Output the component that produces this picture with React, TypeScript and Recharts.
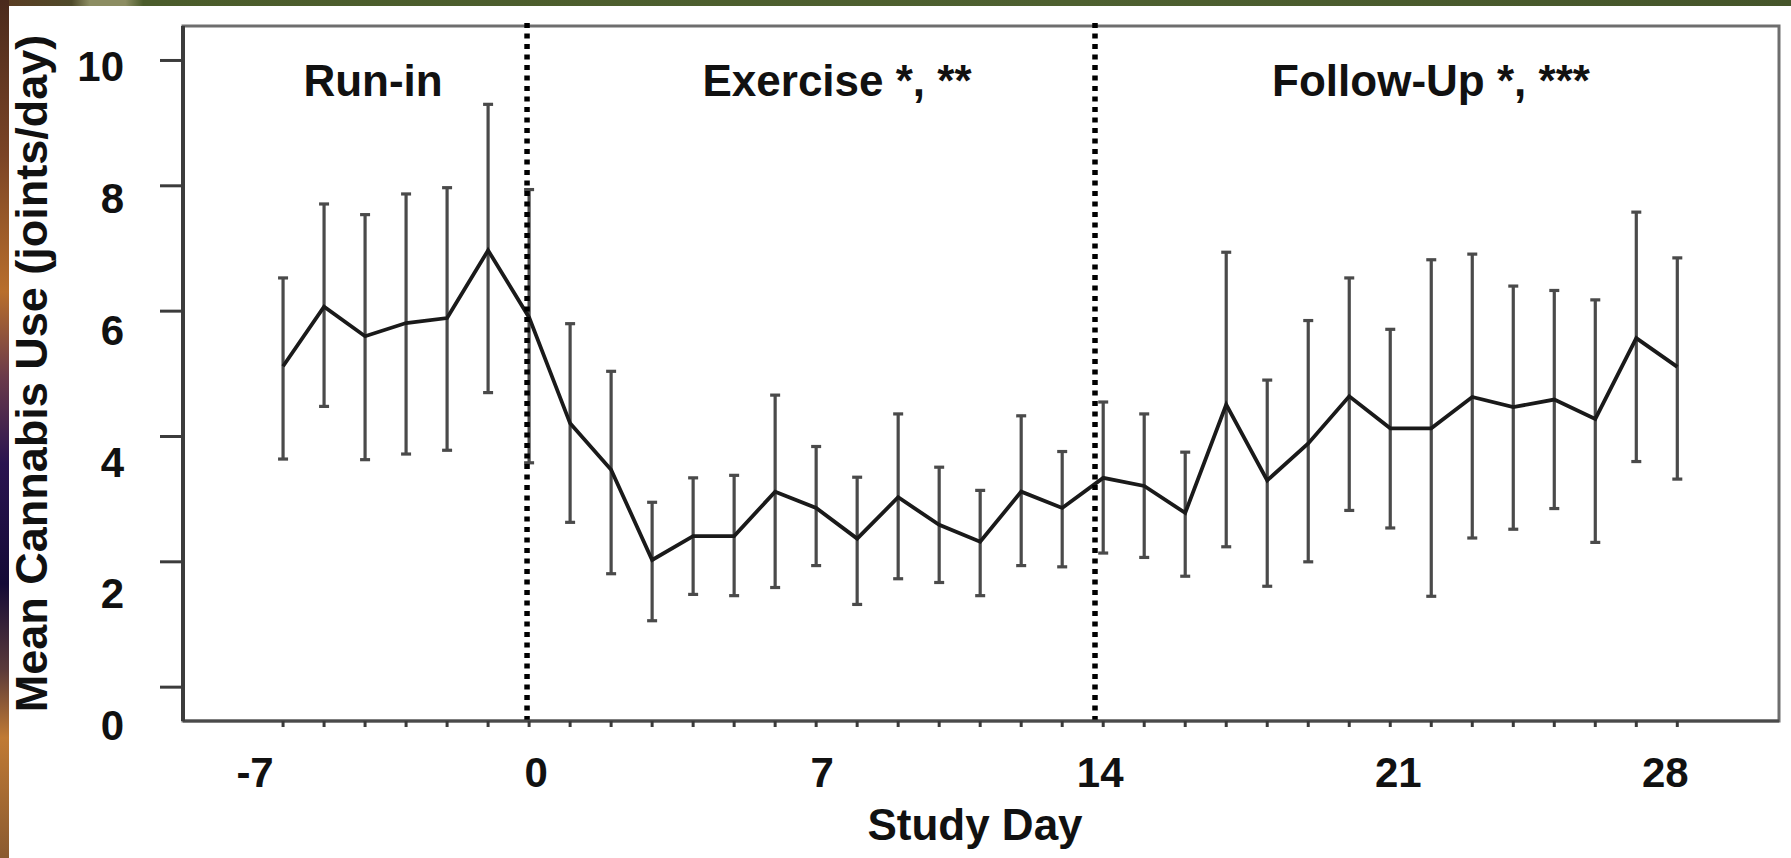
import {
  LineChart,
  Line,
  XAxis,
  YAxis,
  ErrorBar,
  ReferenceLine,
  ReferenceArea,
} from "recharts";

// study day of each point (one mean per day)
const days = [
  -6, -5, -4, -3, -2, -1, 0, 1, 2, 3, 4, 5, 6, 7, 8, 9, 10, 11, 12, 13, 14, 15,
  16, 17, 18, 19, 20, 21, 22, 23, 24, 25, 26, 27, 28,
];

// mean joints/day
const meanUse = [
  5.12, 6.07, 5.6, 5.81, 5.89, 6.97, 5.9, 4.21, 3.47, 2.03, 2.41, 2.41, 3.12,
  2.86, 2.37, 3.03, 2.59, 2.32, 3.12, 2.86, 3.34, 3.21, 2.78, 4.51, 3.3, 3.89,
  4.64, 4.13, 4.13, 4.63, 4.47, 4.59, 4.28, 5.57, 5.11,
];

// top and bottom of each error bar
const upperBar = [
  6.53, 7.71, 7.54, 7.87, 7.97, 9.3, 7.94, 5.8, 5.04, 2.95, 3.34, 3.38, 4.66,
  3.84, 3.35, 4.36, 3.51, 3.14, 4.33, 3.76, 4.55, 4.36, 3.75, 6.94, 4.9, 5.85,
  6.53, 5.71, 6.82, 6.91, 6.4, 6.33, 6.18, 7.58, 6.85,
];
const lowerBar = [
  3.64, 4.48, 3.63, 3.72, 3.78, 4.7, 3.58, 2.63, 1.81, 1.06, 1.48, 1.46, 1.59,
  1.94, 1.32, 1.73, 1.67, 1.46, 1.94, 1.92, 2.14, 2.07, 1.77, 2.24, 1.61, 2.0,
  2.82, 2.54, 1.45, 2.38, 2.52, 2.85, 2.31, 3.6, 3.32,
];

// labelled x ticks (the first one is printed as -7 in the original)
const xTickDays = [-6, 0, 7, 14, 21, 28];
const xTickLabels = ["-7", "0", "7", "14", "21", "28"];
const yTicks = [0, 2, 4, 6, 8, 10];

// phase boundaries (dotted lines) and phase names
const phaseBreaks = [-0.05, 13.8];
const phaseNames = ["Run-in", "Exercise *, **", "Follow-Up *, ***"];

const X_MIN = -8.44;
const X_MAX = 30.48;
const Y_MIN = -0.54;
const Y_MAX = 10.55;

const FONT = '"Liberation Sans", Arial, Helvetica, sans-serif';
const INK = "#111";

const data = days.map((day, i) => ({
  day,
  mean: meanUse[i],
  err: [meanUse[i] - lowerBar[i], upperBar[i] - meanUse[i]],
}));

const phaseEdges = [X_MIN, ...phaseBreaks, X_MAX];
const phaseLabelDx = [18, 26, -6];

// x labels are not quite centred on their ticks in the source figure
const xNudge: Record<string, number> = {
  "-7": -28,
  "0": 7,
  "7": 6,
  "14": -3,
  "21": 8,
  "28": -12,
};

function XTick(props: any) {
  const { x, y, payload } = props;
  const i = xTickDays.indexOf(payload.value);
  if (i < 0) return <g />;
  const label = xTickLabels[i];
  return (
    <text
      x={x + (xNudge[label] ?? 0)}
      y={y}
      dy={30}
      textAnchor="middle"
      fontSize={42}
      fontWeight={700}
      fill={INK}
    >
      {label}
    </text>
  );
}

function YTick(props: any) {
  const { x, y, payload } = props;
  const v = payload.value;
  // labels drift below their ticks towards the bottom of the axis
  const drift = 6 + (10 - v) * 3.2;
  return (
    <text
      x={x}
      y={y + drift}
      dy={15}
      textAnchor="end"
      fontSize={42}
      fontWeight={700}
      fill={INK}
    >
      {v}
    </text>
  );
}

export default function App() {
  return (
    <div
      style={{
        position: "absolute",
        left: 0,
        top: 0,
        width: 1791,
        height: 858,
        background: "#fff",
        fontFamily: FONT,
        overflow: "hidden",
      }}
    >
      {/* slide decoration round the figure */}
      <div
        style={{
          position: "absolute",
          left: 0,
          top: 0,
          width: 1791,
          height: 6,
          background:
            "linear-gradient(90deg, #5b3b22 0%, #4f4a2a 4%, #8c8d62 5%, #8c8d62 7%, #4b5c2b 8%, #4e6030 60%, #45552a 100%)",
        }}
      />
      <div
        style={{
          position: "absolute",
          left: 0,
          top: 0,
          width: 9,
          height: 858,
          background:
            "linear-gradient(180deg, #4a2a1c 0%, #7a4426 18%, #b86e2c 34%, #6a3a4a 44%, #2a1450 54%, #140a36 68%, #5a3a3a 78%, #c07a34 86%, #8a5a30 100%)",
        }}
      />

      <LineChart
        width={1791}
        height={858}
        data={data}
        margin={{ top: 26, right: 12, bottom: 0, left: 0 }}
      >
        <XAxis
          type="number"
          dataKey="day"
          domain={[X_MIN, X_MAX]}
          allowDataOverflow
          ticks={days}
          interval={0}
          height={137}
          tickSize={6}
          tickMargin={30}
          axisLine={{ stroke: "#4a4a4a", strokeWidth: 3 }}
          tickLine={{ stroke: "#3a3a3a", strokeWidth: 3 }}
          tick={XTick}
          label={{
            value: "Study Day",
            position: "insideBottom",
            offset: 18,
            dx: -6,
            fontSize: 44,
            fontWeight: 700,
            fill: INK,
          }}
        />
        <YAxis
          type="number"
          domain={[Y_MIN, Y_MAX]}
          allowDataOverflow
          ticks={yTicks}
          interval={0}
          width={183}
          tickSize={23}
          tickMargin={36}
          axisLine={{ stroke: "#3c3c3c", strokeWidth: 4 }}
          tickLine={{ stroke: "#3c3c3c", strokeWidth: 3 }}
          tick={YTick}
          label={{
            value: "Mean Cannabis Use (joints/day)",
            angle: -90,
            position: "insideLeft",
            offset: 31,
            fontSize: 45,
            fontWeight: 700,
            fill: INK,
            style: { textAnchor: "middle" },
          }}
        />

        {/* plot frame */}
        <ReferenceArea
          x1={X_MIN}
          x2={X_MAX}
          y1={Y_MIN}
          y2={Y_MAX}
          fill="none"
          fillOpacity={0}
          stroke="#6e6e6e"
          strokeWidth={3}
          ifOverflow="visible"
        />

        {phaseNames.map((name, i) => (
          <ReferenceArea
            key={name}
            x1={phaseEdges[i]}
            x2={phaseEdges[i + 1]}
            fill="none"
            fillOpacity={0}
            stroke="none"
            ifOverflow="visible"
            label={{
              value: name,
              position: "insideTop",
              offset: 39,
              dx: phaseLabelDx[i],
              fontSize: 44,
              fontWeight: 700,
              fill: INK,
            }}
          />
        ))}

        <Line
          type="linear"
          dataKey="mean"
          stroke="#1a1a1a"
          strokeWidth={3.8}
          dot={false}
          activeDot={false}
          isAnimationActive={false}
        >
          <ErrorBar
            dataKey="err"
            direction="y"
            width={5}
            stroke="#4a4a4a"
            strokeWidth={3.2}
            isAnimationActive={false}
          />
        </Line>

        {phaseBreaks.map((b) => (
          <ReferenceLine
            key={b}
            segment={[
              { x: b, y: Y_MIN },
              { x: b, y: 10.68 },
            ]}
            stroke="#000"
            strokeWidth={5.5}
            strokeDasharray="5 5.5"
            ifOverflow="visible"
          />
        ))}
      </LineChart>
    </div>
  );
}
